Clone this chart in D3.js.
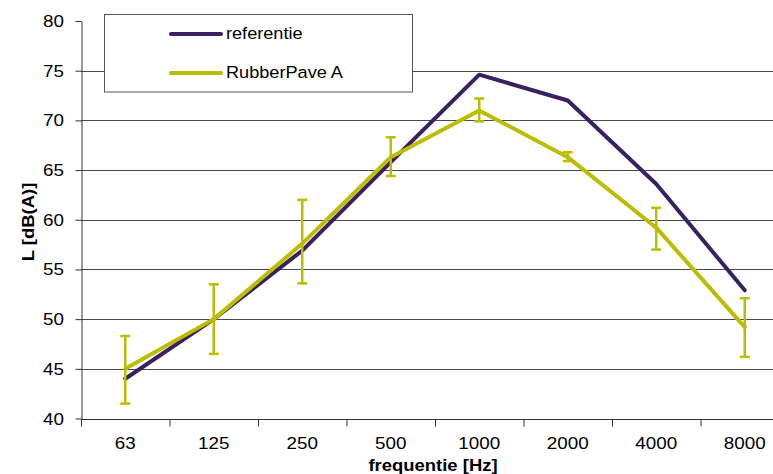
<!DOCTYPE html>
<html>
<head>
<meta charset="utf-8">
<script src="https://cdn.jsdelivr.net/npm/d3@7"></script>
<style>
  html, body { margin: 0; padding: 0; background: #fff; }
  svg { display: block; font-family: "Liberation Sans", Arial, sans-serif; }
</style>
</head>
<body>
<svg id="chart" width="773" height="474"></svg>
<script>
// Frequency bands (Hz)
const categories = ["63", "125", "250", "500", "1000", "2000", "4000", "8000"];
// Sound level per band, dB(A)
const referentie = [44.0, 50.0, 56.9, 65.8, 74.6, 72.0, 63.6, 52.9];
const rubberPave = [45.0, 50.0, 57.6, 66.3, 71.0, 66.3, 59.2, 49.2];
// Spread of the RubberPave A measurements (low / high)
const rubberLow  = [41.5, 46.5, 53.6, 64.4, 69.9, 65.9, 57.0, 46.2];
const rubberHigh = [48.3, 53.5, 62.0, 68.3, 72.2, 66.8, 61.2, 52.1];
const yTicks = [40, 45, 50, 55, 60, 65, 70, 75, 80];

const svg = d3.select("#chart");
const plotLeft = 81, plotTop = 21, plotBottom = 418.5;
const bandW = 88.5;
const plotRight = plotLeft + bandW * categories.length;
const FS = 16.5;      // base font size
const WIDE = 1.14;    // horizontal stretch of the lettering

const x = d3.scaleBand().domain(categories).range([plotLeft, plotRight]).paddingInner(0).paddingOuter(0);
const y = d3.scaleLinear().domain([40, 80]).range([plotBottom, plotTop]);
const cx = c => x(c) + x.bandwidth() / 2;

// horizontal gridlines
svg.append("g").selectAll("line")
  .data(yTicks.filter(t => t > 40 && t < 80))
  .join("line")
  .attr("x1", plotLeft).attr("x2", plotRight)
  .attr("y1", d => Math.round(y(d)) + 0.5).attr("y2", d => Math.round(y(d)) + 0.5)
  .attr("stroke", "#4a4a4a").attr("stroke-width", 1);

// y axis
const yAxis = svg.append("g")
  .attr("transform", `translate(${plotLeft + 0.5},0)`)
  .call(d3.axisLeft(y).tickValues(yTicks).tickSize(6).tickSizeOuter(0).tickFormat(() => ""));
yAxis.select(".domain").attr("stroke", "#333");
yAxis.selectAll(".tick line").attr("stroke", "#333");
svg.append("g").selectAll("text")
  .data(yTicks)
  .join("text")
  .attr("transform", d => `translate(64,${y(d) + 6}) scale(${WIDE},1)`)
  .attr("text-anchor", "end")
  .attr("font-size", FS)
  .text(d => d);

// x axis with ticks between the bands
const xAxisG = svg.append("g").attr("transform", `translate(0,${Math.round(plotBottom) + 0.5})`);
xAxisG.append("line").attr("x1", plotLeft).attr("x2", plotRight).attr("stroke", "#333");
xAxisG.selectAll("line.tk")
  .data(categories.concat(["end"]))
  .join("line").attr("class", "tk")
  .attr("x1", (d, i) => plotLeft + 0.5 + i * x.bandwidth())
  .attr("x2", (d, i) => plotLeft + 0.5 + i * x.bandwidth())
  .attr("y1", 0).attr("y2", 7).attr("stroke", "#333");
xAxisG.selectAll("text")
  .data(categories)
  .join("text")
  .attr("transform", d => `translate(${cx(d)},29) scale(${WIDE},1)`)
  .attr("text-anchor", "middle")
  .attr("font-size", FS)
  .text(d => d);

// axis titles
svg.append("text")
  .attr("transform", `translate(433,471) scale(1.12,1)`)
  .attr("text-anchor", "middle").attr("font-size", FS).attr("font-weight", "bold")
  .text("frequentie [Hz]");
svg.append("text")
  .attr("transform", "translate(34,222) rotate(-90) scale(1.12,1)")
  .attr("text-anchor", "middle").attr("font-size", FS).attr("font-weight", "bold")
  .text("L [dB(A)]");

const purple = "#3a1f63", olive = "#bcbc00";
const line = d3.line().x((d, i) => cx(categories[i])).y(d => y(d));

// referentie series
svg.append("path").datum(referentie)
  .attr("d", line).attr("fill", "none")
  .attr("stroke", purple).attr("stroke-width", 4).attr("stroke-linejoin", "round").attr("stroke-linecap", "round");

// error bars for RubberPave A
const eb = svg.append("g").attr("stroke", olive).attr("stroke-width", 2.5);
categories.forEach((c, i) => {
  const xx = cx(c);
  eb.append("line").attr("x1", xx).attr("x2", xx).attr("y1", y(rubberLow[i])).attr("y2", y(rubberHigh[i]));
  eb.append("line").attr("x1", xx - 5).attr("x2", xx + 5).attr("y1", y(rubberLow[i])).attr("y2", y(rubberLow[i]));
  eb.append("line").attr("x1", xx - 5).attr("x2", xx + 5).attr("y1", y(rubberHigh[i])).attr("y2", y(rubberHigh[i]));
});

// RubberPave A series
svg.append("path").datum(rubberPave)
  .attr("d", line).attr("fill", "none")
  .attr("stroke", olive).attr("stroke-width", 4).attr("stroke-linejoin", "round").attr("stroke-linecap", "round");

// legend
const lg = svg.append("g");
lg.append("rect").attr("x", 104.5).attr("y", 14.5).attr("width", 308).attr("height", 77.5)
  .attr("fill", "#fff").attr("stroke", "#555").attr("stroke-width", 1);
const legendItems = [
  { name: "referentie", color: purple, yy: 34 },
  { name: "RubberPave A", color: olive, yy: 73 }
];
legendItems.forEach(it => {
  lg.append("line").attr("x1", 171).attr("x2", 221).attr("y1", it.yy).attr("y2", it.yy)
    .attr("stroke", it.color).attr("stroke-width", 4).attr("stroke-linecap", "round");
  lg.append("text")
    .attr("transform", `translate(226,${it.yy + 4.8}) scale(1.1,1)`)
    .attr("font-size", FS).text(it.name);
});
</script>
</body>
</html>
